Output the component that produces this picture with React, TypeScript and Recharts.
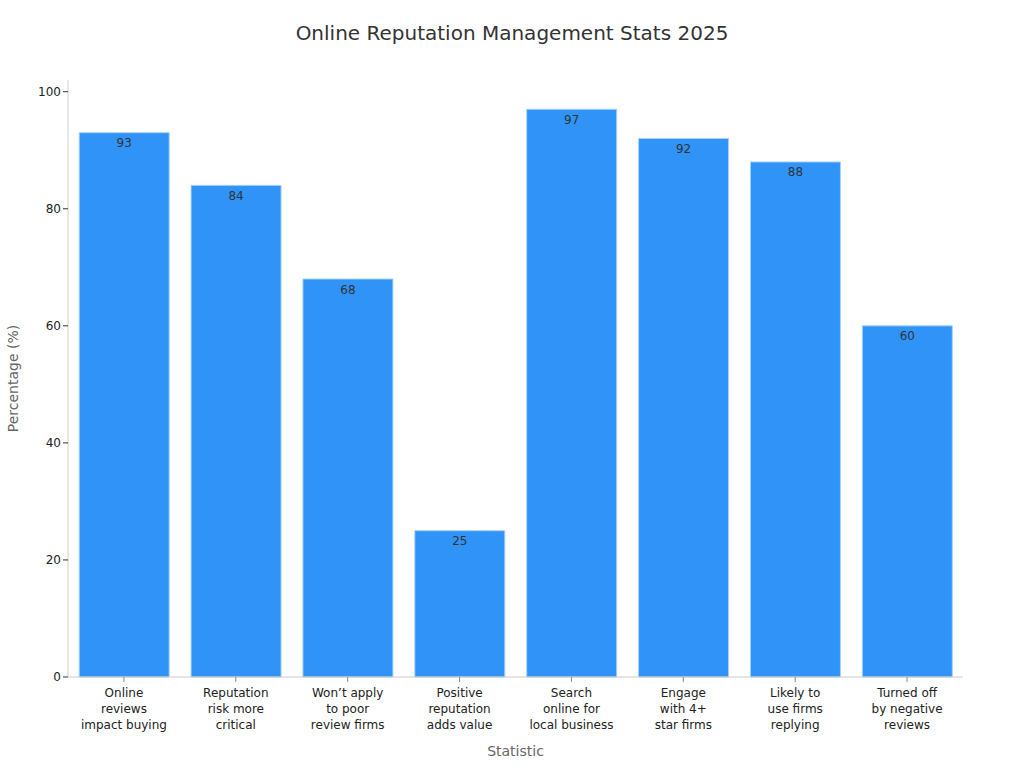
import React from "react";
import { BarChart, Bar, XAxis, YAxis, LabelList } from "recharts";

const categories = [
  "Online\nreviews\nimpact buying",
  "Reputation\nrisk more\ncritical",
  "Won’t apply\nto poor\nreview firms",
  "Positive\nreputation\nadds value",
  "Search\nonline for\nlocal business",
  "Engage\nwith 4+\nstar firms",
  "Likely to\nuse firms\nreplying",
  "Turned off\nby negative\nreviews",
];
const percentages = [93, 84, 68, 25, 97, 92, 88, 60];
const yTicks = [0, 20, 40, 60, 80, 100];

const data = categories.map((name, i) => ({ name, value: percentages[i] }));

const FONT = "DejaVu Sans, sans-serif";

function CategoryTick({ x, y, payload }: any) {
  const lines = String(payload.value).split("\n");
  return (
    <g transform={`translate(${x},${y})`}>
      <text textAnchor="middle" fontSize={12} fill="#222" fontFamily={FONT}>
        {lines.map((line, i) => (
          <tspan key={i} x={0} dy={i === 0 ? 13 : 16}>
            {line}
          </tspan>
        ))}
      </text>
    </g>
  );
}

export default function App() {
  return (
    <div style={{ position: "absolute", left: 0, top: 0, width: 1024, height: 768, background: "#fff" }}>
      <div
        style={{
          position: "absolute", top: 21, width: 1024, textAlign: "center",
          fontFamily: FONT, fontSize: 20, color: "#333",
        }}
      >
        Online Reputation Management Stats 2025
      </div>
      <BarChart
        width={1024}
        height={768}
        data={data}
        margin={{ top: 80, right: 61, left: 1, bottom: 0 }}
        barCategoryGap="10%"
      >
        <XAxis
          dataKey="name"
          interval={0}
          height={91}
          tick={<CategoryTick />}
          tickLine={{ stroke: "#888" }}
          tickSize={5}
          axisLine={{ stroke: "#ccc" }}
          label={{
            value: "Statistic", position: "insideBottom", offset: 12,
            fontSize: 14, fill: "#666", fontFamily: FONT,
          }}
        />
        <YAxis
          width={67}
          domain={[0, 102]}
          ticks={yTicks}
          tick={{ fontSize: 12, fill: "#222", fontFamily: FONT }}
          tickLine={{ stroke: "#333" }}
          tickSize={5}
          axisLine={{ stroke: "#ccc" }}
          label={{
            value: "Percentage (%)", angle: -90, position: "insideLeft", offset: 12,
            fontSize: 14, fill: "#666", fontFamily: FONT, style: { textAnchor: "middle" },
          }}
        />
        <Bar dataKey="value" fill="#2f93f8" stroke="#a9d1f7" strokeWidth={1} isAnimationActive={false}>
          <LabelList dataKey="value" position="insideTop" offset={6} fontSize={12} fill="#333" fontFamily={FONT} />
        </Bar>
      </BarChart>
    </div>
  );
}
